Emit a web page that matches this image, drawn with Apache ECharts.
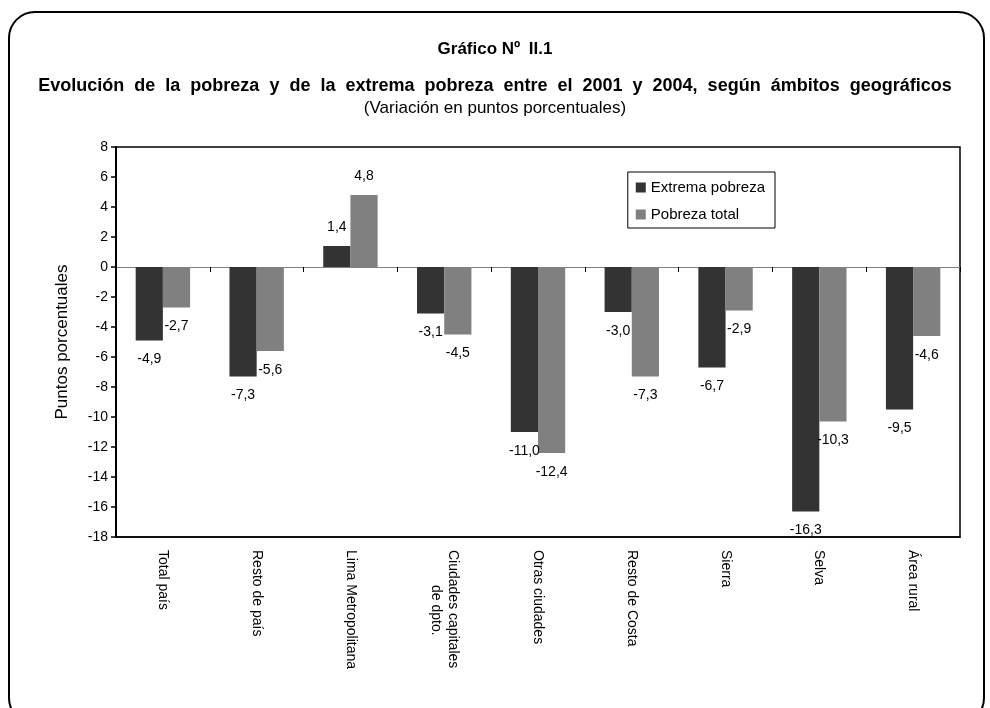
<!DOCTYPE html>
<html>
<head>
<meta charset="utf-8">
<script src="https://cdn.jsdelivr.net/npm/echarts@6/dist/echarts.min.js"></script>
<style>
html, body { margin: 0; padding: 0; background: #fff; }
#chart { width: 990px; height: 708px; }
</style>
</head>
<body>
<div id="chart"></div>
<script>
// ámbitos geográficos
const categorias = ['Total país', 'Resto de país', 'Lima Metropolitana', 'Ciudades capitales\n         de dpto.', 'Otras ciudades', 'Resto de Costa', 'Sierra', 'Selva', 'Área rural'];
// variación en puntos porcentuales 2001-2004
const extremaPobreza = [-4.9, -7.3, 1.4, -3.1, -11.0, -3.0, -6.7, -16.3, -9.5];
const pobrezaTotal = [-2.7, -5.6, 4.8, -4.5, -12.4, -7.3, -2.9, -10.3, -4.6];
const serieNombres = ['Extrema pobreza', 'Pobreza total'];

const fuente = 'Liberation Sans, Arial, sans-serif';
const subtitulo = 'Evolución de la pobreza y de la extrema pobreza entre el 2001 y 2004, según ámbitos geográficos';
const myChart = echarts.init(document.getElementById('chart'));

//etiquetas con coma decimal, arriba o abajo segun signo
function datos(arr) {
	return arr.map(v => ({
		value: v,
		label: { position: v < 0 ? 'bottom' : 'top' }
	}));
}

const etiqueta = {
	show: true,
	distance: 12,
	color: '#000',
	fontFamily: fuente,
	fontSize: 14,
	formatter: p => p.value.toFixed(1).replace('.', ',')
};

const option = {
	backgroundColor: '#fff',
	animation: false,
	title: [{
		text: 'Gráfico Nº\u2002II.1',
		left: 'center', top: 36,
		textStyle: { fontFamily: fuente, fontSize: 17, fontWeight: 'bold', color: '#000' }
	}, {
		//espacios dobles entre palabras como en el original
		text: subtitulo.split(' ').join('  '),
		left: 'center', top: 72,
		textStyle: { fontFamily: fuente, fontSize: 18, fontWeight: 'bold', color: '#000' }
	}, {
		text: '(Variación en puntos porcentuales)',
		left: 'center', top: 95,
		textStyle: { fontFamily: fuente, fontSize: 17, fontWeight: 'normal', color: '#000' }
	}],
	graphic: [{
		type: 'rect',
		silent: true,
		shape: { x: 9, y: 12, width: 975, height: 712, r: 26 },
		style: { fill: 'none', stroke: '#000', lineWidth: 2 }
	}],
	legend: {
		orient: 'vertical',
		right: 215, top: 172,
		padding: [8, 10, 6, 8],
		itemGap: 12,
		itemWidth: 10, itemHeight: 10,
		borderColor: '#000', borderWidth: 1,
		icon: 'rect',
		textStyle: { fontFamily: fuente, fontSize: 15, color: '#000' },
		data: serieNombres
	},
	grid: {
		left: 116, right: 30, top: 147, bottom: 171,
		show: true,
		borderColor: '#000',
		borderWidth: 1.5
	},
	xAxis: [{
		type: 'category',
		data: categorias,
		position: 'bottom',
		axisLine: { onZero: false, lineStyle: { color: '#000', width: 1.5 } },
		axisTick: { show: false },
		axisLabel: {
			interval: 0, rotate: -90, margin: 13,
			color: '#000', fontFamily: fuente, fontSize: 14, lineHeight: 17
		}
	}, {
		type: 'category',
		data: categorias,
		position: 'top',
		axisLine: { onZero: true, lineStyle: { color: '#808080', width: 1 } },
		axisTick: { show: true, inside: true, length: 5, interval: 0, lineStyle: { color: '#000' } },
		axisLabel: { show: false }
	}],
	yAxis: {
		type: 'value',
		min: -18, max: 8, interval: 2,
		name: 'Puntos porcentuales',
		nameLocation: 'middle',
		nameGap: 45,
		nameRotate: 90,
		nameTextStyle: { fontFamily: fuente, fontSize: 17, color: '#000' },
		axisLine: { show: true, lineStyle: { color: '#000', width: 2 } },
		axisTick: { show: true, length: 5, lineStyle: { color: '#000', width: 1.5 } },
		axisLabel: { color: '#000', fontFamily: fuente, fontSize: 14, margin: 8 },
		splitLine: { show: false }
	},
	series: [{
		name: serieNombres[0],
		type: 'bar',
		data: datos(extremaPobreza),
		itemStyle: { color: '#333333' },
		barGap: '0%',
		barCategoryGap: '42%',
		label: etiqueta
	}, {
		name: serieNombres[1],
		type: 'bar',
		data: datos(pobrezaTotal),
		itemStyle: { color: '#808080' },
		barGap: '0%',
		barCategoryGap: '42%',
		label: etiqueta
	}]
};

myChart.setOption(option);
</script>
</body>
</html>
